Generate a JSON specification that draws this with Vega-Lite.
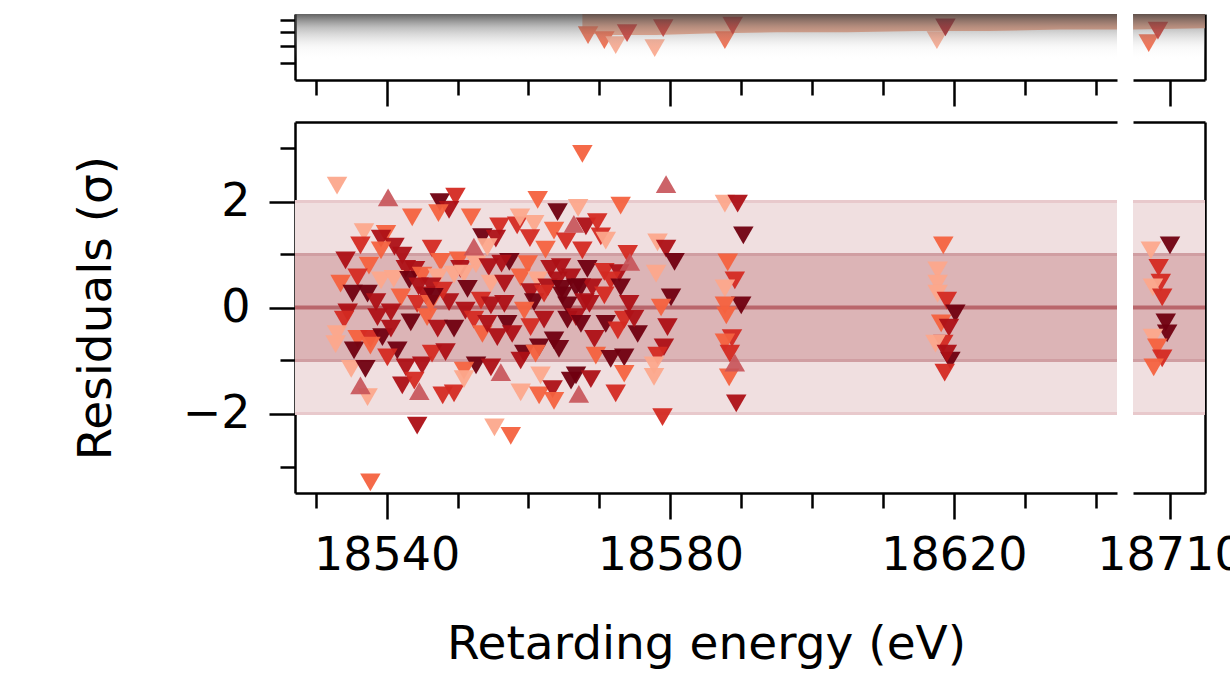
{
  "$schema": "https://vega.github.io/schema/vega-lite/v6.json",
  "padding": {"left": 72, "top": 14, "right": 0, "bottom": 10},
  "autosize": {"type": "pad"},
  "background": "white",
  "config": {
    "view": {"stroke": null},
    "axis": {"grid": false, "domainColor": "#000", "domainWidth": 2.5, "tickColor": "#000", "tickWidth": 2.5,
      "labelFont": "DejaVu Sans", "labelFontSize": 46, "labelColor": "#000",
      "titleFont": "DejaVu Sans", "titleFontSize": 47, "titleColor": "#000", "titleFontWeight": "normal"}
  },
  "datasets": {
    "bands": [{"lo": -2, "hi": 2, "k": "outer"}, {"lo": -1, "hi": 1, "k": "inner"}],
    "zero": [{"r": 0}],
    "upband": [
      {"e": 18567.6, "lo": 7.9, "hi": 30}, {"e": 18572, "lo": 7.8, "hi": 30}, {"e": 18578, "lo": 7.8, "hi": 30},
      {"e": 18585, "lo": 7.9, "hi": 30}, {"e": 18595, "lo": 8.0, "hi": 30}, {"e": 18605, "lo": 8.0, "hi": 30},
      {"e": 18615, "lo": 8.1, "hi": 30}, {"e": 18625, "lo": 8.1, "hi": 30}, {"e": 18635, "lo": 8.2, "hi": 30},
      {"e": 18643, "lo": 8.2, "hi": 30}, {"e": 18704.8, "lo": 8.2, "hi": 30}, {"e": 18715, "lo": 8.3, "hi": 30}
    ],
    "upper": [
      {"e": 18568.4, "v": 7.79, "c": "M"}, {"e": 18570.7, "v": 7.43, "c": "M"}, {"e": 18572.3, "v": 7.09, "c": "L"},
      {"e": 18573.9, "v": 7.94, "c": "R"}, {"e": 18577.8, "v": 6.88, "c": "L"}, {"e": 18579.0, "v": 8.32, "c": "R"},
      {"e": 18587.7, "v": 7.43, "c": "M"}, {"e": 18588.8, "v": 8.52, "c": "R"}, {"e": 18617.6, "v": 7.43, "c": "L"},
      {"e": 18618.8, "v": 8.38, "c": "D"}, {"e": 18707.0, "v": 7.22, "c": "M"}, {"e": 18708.3, "v": 8.12, "c": "R"}
    ],
    "res": [
      {"e":18533.0,"r":2.30,"c":"L"},{"e":18540.2,"r":2.08,"c":"U"},{"e":18567.6,"r":2.90,"c":"M"},{"e":18579.4,"r":2.33,"c":"U"},
      {"e":18547.5,"r":1.99,"c":"K"},{"e":18549.7,"r":2.09,"c":"R"},{"e":18548.8,"r":1.84,"c":"D"},{"e":18543.6,"r":1.70,"c":"M"},
      {"e":18551.9,"r":1.70,"c":"M"},{"e":18561.3,"r":2.03,"c":"M"},{"e":18564.1,"r":1.80,"c":"K"},{"e":18567.0,"r":1.88,"c":"L"},
      {"e":18573.0,"r":1.92,"c":"M"},{"e":18566.4,"r":1.58,"c":"U"},{"e":18568.1,"r":1.53,"c":"D"},{"e":18569.7,"r":1.61,"c":"R"},
      {"e":18558.4,"r":1.55,"c":"R"},{"e":18555.9,"r":1.53,"c":"R"},{"e":18560.8,"r":1.58,"c":"L"},{"e":18536.8,"r":1.42,"c":"L"},
      {"e":18539.9,"r":1.39,"c":"M"},{"e":18539.2,"r":1.30,"c":"D"},{"e":18536.3,"r":1.17,"c":"R"},{"e":18541.1,"r":1.15,"c":"D"},
      {"e":18546.4,"r":1.11,"c":"R"},{"e":18553.5,"r":1.33,"c":"K"},{"e":18555.4,"r":1.30,"c":"D"},{"e":18552.3,"r":1.15,"c":"U"},
      {"e":18560.2,"r":1.31,"c":"R"},{"e":18563.6,"r":1.45,"c":"M"},{"e":18565.3,"r":1.25,"c":"R"},{"e":18570.2,"r":1.34,"c":"R"},
      {"e":18570.9,"r":1.26,"c":"L"},{"e":18578.2,"r":1.23,"c":"L"},{"e":18579.4,"r":1.11,"c":"D"},{"e":18580.6,"r":0.86,"c":"K"},
      {"e":18574.0,"r":1.01,"c":"R"},{"e":18574.3,"r":0.86,"c":"U"},{"e":18567.6,"r":1.08,"c":"R"},{"e":18562.4,"r":1.09,"c":"M"},
      {"e":18534.2,"r":0.89,"c":"D"},{"e":18537.5,"r":0.79,"c":"M"},{"e":18542.2,"r":0.98,"c":"D"},{"e":18542.7,"r":0.73,"c":"D"},
      {"e":18544.0,"r":0.71,"c":"D"},{"e":18547.6,"r":0.86,"c":"M"},{"e":18550.2,"r":0.89,"c":"M"},{"e":18550.4,"r":0.73,"c":"D"},
      {"e":18552.6,"r":0.82,"c":"L"},{"e":18554.4,"r":0.76,"c":"D"},{"e":18557.3,"r":0.86,"c":"K"},{"e":18559.9,"r":0.82,"c":"M"},
      {"e":18563.1,"r":0.73,"c":"D"},{"e":18564.6,"r":0.76,"c":"D"},{"e":18568.3,"r":0.73,"c":"K"},{"e":18570.7,"r":0.67,"c":"R"},
      {"e":18572.8,"r":0.65,"c":"D"},{"e":18578.0,"r":0.64,"c":"L"},{"e":18533.5,"r":0.45,"c":"M"},{"e":18535.9,"r":0.57,"c":"R"},
      {"e":18539.2,"r":0.51,"c":"L"},{"e":18541.0,"r":0.54,"c":"L"},{"e":18543.2,"r":0.52,"c":"K"},{"e":18545.0,"r":0.60,"c":"M"},
      {"e":18547.2,"r":0.57,"c":"L"},{"e":18549.5,"r":0.62,"c":"L"},{"e":18550.9,"r":0.64,"c":"L"},{"e":18554.7,"r":0.45,"c":"L"},
      {"e":18556.6,"r":0.45,"c":"D"},{"e":18558.9,"r":0.57,"c":"M"},{"e":18561.3,"r":0.51,"c":"L"},{"e":18562.7,"r":0.38,"c":"D"},
      {"e":18564.1,"r":0.51,"c":"D"},{"e":18566.0,"r":0.57,"c":"D"},{"e":18567.4,"r":0.38,"c":"K"},{"e":18569.0,"r":0.38,"c":"D"},
      {"e":18571.6,"r":0.51,"c":"R"},{"e":18573.0,"r":0.38,"c":"K"},{"e":18535.2,"r":0.26,"c":"K"},{"e":18537.3,"r":0.26,"c":"K"},
      {"e":18538.5,"r":0.10,"c":"D"},{"e":18542.0,"r":0.19,"c":"M"},{"e":18544.3,"r":0.07,"c":"R"},{"e":18545.5,"r":0.23,"c":"D"},
      {"e":18546.2,"r":0.07,"c":"M"},{"e":18548.8,"r":0.10,"c":"D"},{"e":18551.4,"r":0.35,"c":"K"},{"e":18553.3,"r":0.13,"c":"R"},
      {"e":18554.7,"r":0.04,"c":"D"},{"e":18556.6,"r":0.07,"c":"D"},{"e":18560.3,"r":0.29,"c":"D"},{"e":18560.8,"r":0.10,"c":"K"},
      {"e":18562.2,"r":0.26,"c":"R"},{"e":18564.8,"r":0.23,"c":"K"},{"e":18565.5,"r":0.04,"c":"K"},{"e":18566.7,"r":0.38,"c":"K"},
      {"e":18567.9,"r":0.10,"c":"D"},{"e":18570.7,"r":0.23,"c":"R"},{"e":18574.2,"r":0.07,"c":"D"},{"e":18580.1,"r":0.19,"c":"K"},
      {"e":18578.7,"r":0.00,"c":"M"},{"e":18534.5,"r":-0.09,"c":"D"},{"e":18534.0,"r":-0.23,"c":"R"},{"e":18533.0,"r":-0.50,"c":"L"},
      {"e":18532.8,"r":-0.69,"c":"L"},{"e":18535.9,"r":-0.59,"c":"M"},{"e":18537.7,"r":-0.59,"c":"R"},{"e":18538.7,"r":-0.18,"c":"D"},
      {"e":18539.4,"r":-0.56,"c":"K"},{"e":18540.6,"r":-0.09,"c":"D"},{"e":18540.6,"r":-0.40,"c":"D"},{"e":18541.5,"r":-0.81,"c":"K"},
      {"e":18543.4,"r":-0.28,"c":"K"},{"e":18545.7,"r":-0.18,"c":"M"},{"e":18547.2,"r":-0.40,"c":"D"},{"e":18549.5,"r":-0.40,"c":"K"},
      {"e":18551.1,"r":-0.06,"c":"D"},{"e":18552.3,"r":-0.23,"c":"R"},{"e":18553.5,"r":-0.50,"c":"M"},{"e":18554.2,"r":-0.31,"c":"D"},
      {"e":18557.0,"r":-0.31,"c":"K"},{"e":18555.6,"r":-0.56,"c":"D"},{"e":18557.7,"r":-0.50,"c":"D"},{"e":18559.4,"r":-0.06,"c":"M"},
      {"e":18559.4,"r":-0.87,"c":"K"},{"e":18560.3,"r":-0.37,"c":"R"},{"e":18561.5,"r":-0.75,"c":"K"},{"e":18562.2,"r":-0.23,"c":"D"},
      {"e":18563.6,"r":-0.62,"c":"K"},{"e":18564.3,"r":-0.78,"c":"K"},{"e":18565.5,"r":-0.23,"c":"K"},{"e":18566.7,"r":-0.18,"c":"D"},
      {"e":18567.4,"r":-0.31,"c":"K"},{"e":18568.6,"r":0.07,"c":"D"},{"e":18569.3,"r":-0.59,"c":"D"},{"e":18570.9,"r":-0.31,"c":"K"},
      {"e":18572.6,"r":-0.43,"c":"R"},{"e":18573.5,"r":-0.23,"c":"R"},{"e":18575.4,"r":-0.50,"c":"K"},{"e":18574.9,"r":-0.21,"c":"D"},
      {"e":18579.6,"r":-0.37,"c":"D"},{"e":18579.1,"r":-0.75,"c":"D"},{"e":18535.4,"r":-0.81,"c":"K"},{"e":18537.7,"r":-0.72,"c":"M"},
      {"e":18540.1,"r":-0.94,"c":"R"},{"e":18542.7,"r":-1.13,"c":"D"},{"e":18545.0,"r":-1.09,"c":"D"},{"e":18546.4,"r":-0.87,"c":"R"},
      {"e":18548.3,"r":-0.84,"c":"D"},{"e":18552.6,"r":-1.09,"c":"K"},{"e":18554.7,"r":-1.13,"c":"D"},{"e":18556.1,"r":-1.22,"c":"U"},
      {"e":18550.9,"r":-1.19,"c":"M"},{"e":18558.9,"r":-1.00,"c":"D"},{"e":18561.0,"r":-0.87,"c":"M"},{"e":18569.5,"r":-0.91,"c":"M"},
      {"e":18571.6,"r":-0.97,"c":"K"},{"e":18573.5,"r":-0.94,"c":"K"},{"e":18578.2,"r":-0.91,"c":"R"},{"e":18577.7,"r":-1.09,"c":"L"},
      {"e":18535.0,"r":-1.16,"c":"L"},{"e":18537.0,"r":-1.16,"c":"K"},{"e":18536.3,"r":-1.47,"c":"U"},{"e":18537.3,"r":-1.69,"c":"L"},
      {"e":18542.2,"r":-1.47,"c":"D"},{"e":18543.9,"r":-1.38,"c":"R"},{"e":18544.6,"r":-1.58,"c":"U"},{"e":18547.9,"r":-1.66,"c":"R"},
      {"e":18549.5,"r":-1.62,"c":"R"},{"e":18550.9,"r":-1.35,"c":"L"},{"e":18558.9,"r":-1.60,"c":"L"},{"e":18561.5,"r":-1.66,"c":"M"},
      {"e":18561.7,"r":-1.28,"c":"L"},{"e":18563.4,"r":-1.54,"c":"D"},{"e":18563.6,"r":-1.76,"c":"M"},{"e":18566.0,"r":-1.38,"c":"K"},
      {"e":18566.7,"r":-1.28,"c":"K"},{"e":18567.1,"r":-1.63,"c":"U"},{"e":18568.8,"r":-1.35,"c":"D"},{"e":18572.3,"r":-1.62,"c":"R"},
      {"e":18573.5,"r":-1.25,"c":"M"},{"e":18577.7,"r":-1.31,"c":"L"},{"e":18544.3,"r":-2.23,"c":"D"},{"e":18555.2,"r":-2.26,"c":"L"},
      {"e":18557.5,"r":-2.42,"c":"M"},{"e":18537.7,"r":-3.30,"c":"M"},{"e":18578.9,"r":-2.07,"c":"R"},
      {"e":18547.3,"r":1.78,"c":"M"},{"e":18554.2,"r":1.14,"c":"L"},{"e":18539.2,"r":1.08,"c":"M"},{"e":18544.5,"r":0.40,"c":"D"},
      {"e":18546.3,"r":0.40,"c":"D"},{"e":18547.9,"r":0.32,"c":"R"},{"e":18546.6,"r":0.20,"c":"K"},{"e":18558.8,"r":1.70,"c":"L"},
      {"e":18556.2,"r":0.83,"c":"D"},{"e":18564.7,"r":0.35,"c":"K"},
      {"e":18587.7,"r":1.96,"c":"L"},{"e":18589.5,"r":1.96,"c":"D"},{"e":18590.3,"r":1.36,"c":"K"},{"e":18588.1,"r":0.85,"c":"M"},
      {"e":18589.1,"r":0.51,"c":"R"},{"e":18587.7,"r":0.36,"c":"L"},{"e":18590.0,"r":0.04,"c":"K"},{"e":18587.7,"r":0.04,"c":"M"},
      {"e":18587.9,"r":-0.15,"c":"M"},{"e":18588.7,"r":-0.58,"c":"R"},{"e":18587.7,"r":-0.66,"c":"M"},{"e":18588.4,"r":-0.87,"c":"R"},
      {"e":18589.1,"r":-1.04,"c":"U"},{"e":18588.3,"r":-1.32,"c":"M"},{"e":18589.3,"r":-1.81,"c":"D"},
      {"e":18618.5,"r":1.17,"c":"M"},{"e":18617.7,"r":0.70,"c":"L"},{"e":18617.7,"r":0.45,"c":"L"},{"e":18617.7,"r":0.26,"c":"L"},
      {"e":18619.0,"r":0.13,"c":"R"},{"e":18620.2,"r":-0.11,"c":"K"},{"e":18618.2,"r":-0.30,"c":"M"},{"e":18619.3,"r":-0.38,"c":"D"},
      {"e":18618.5,"r":-0.68,"c":"R"},{"e":18617.4,"r":-0.68,"c":"L"},{"e":18619.5,"r":-1.00,"c":"K"},{"e":18619.0,"r":-0.87,"c":"D"},
      {"e":18618.7,"r":-1.23,"c":"R"},
      {"e":18710.0,"r":1.17,"c":"K"},{"e":18707.3,"r":1.08,"c":"L"},{"e":18708.4,"r":0.75,"c":"R"},{"e":18708.7,"r":0.47,"c":"R"},
      {"e":18707.6,"r":0.38,"c":"L"},{"e":18708.9,"r":0.19,"c":"R"},{"e":18709.4,"r":-0.28,"c":"K"},{"e":18709.6,"r":-0.49,"c":"K"},
      {"e":18707.6,"r":-0.57,"c":"L"},{"e":18708.2,"r":-0.75,"c":"M"},{"e":18708.9,"r":-0.96,"c":"R"},{"e":18707.7,"r":-1.13,"c":"M"}
    ]
  },
  "concat": [
    {
      "width": 822, "height": 66,
      "layer": [
        {
          "data": {"name": "upband"},
          "transform": [{"filter": "datum.e < 18650"}],
          "mark": {"type": "area", "color": "#f4a080", "opacity": 0.9, "clip": true},
          "encoding": {
            "x": {"field": "e", "type": "quantitative", "scale": {"domain": [18527.07, 18643.0], "nice": false, "zero": false},
              "axis": {"orient": "bottom", "values": [18530,18540,18550,18560,18570,18580,18590,18600,18610,18620,18630,18640],
                "tickSize": {"condition": {"test": "datum.value % 40 === 20", "value": 26}, "value": 15}, "labels": false, "title": null}},
            "y": {"field": "lo", "type": "quantitative", "scale": {"type": "log", "domain": [5.1, 9.5], "nice": false},
              "axis": {"orient": "left", "values": [5, 6, 7, 8, 9], "tickSize": 15, "labels": false, "title": null}},
            "y2": {"field": "hi"}
          }
        },
        {
          "data": {"name": "upper"},
          "transform": [{"filter": "datum.e < 18650"}],
          "mark": {"type": "point", "shape": "triangle-down", "filled": true, "size": 420, "opacity": 0.95, "strokeWidth": 0, "clip": true},
          "encoding": {
            "x": {"field": "e", "type": "quantitative"},
            "y": {"field": "v", "type": "quantitative"},
            "color": {"field": "c", "type": "nominal", "legend": null,
              "scale": {"domain": ["L","M","R","D","K","U"], "range": ["#fca88c","#f4623f","#d42a22","#ad1016","#700010","#c65258"]}}
          }
        },
        {
          "data": {"values": [{}]},
          "mark": {"type": "rect", "fill": {"gradient": "linear", "x1": 0, "y1": 0, "x2": 0, "y2": 1,
            "stops": [{"offset": 0, "color": "rgba(60,60,60,0.8)"}, {"offset": 0.2, "color": "rgba(110,110,110,0.45)"},
                      {"offset": 0.5, "color": "rgba(200,200,200,0.12)"}, {"offset": 0.7, "color": "rgba(255,255,255,0)"}]}},
          "encoding": {}
        }
      ]
    },
    {
      "width": 72, "height": 66,
      "layer": [
        {
          "data": {"name": "upband"},
          "transform": [{"filter": "datum.e > 18700"}],
          "mark": {"type": "area", "color": "#f4a080", "opacity": 0.9, "clip": true},
          "encoding": {
            "x": {"field": "e", "type": "quantitative", "scale": {"domain": [18704.78, 18714.94], "nice": false, "zero": false},
              "axis": {"orient": "bottom", "values": [18710], "tickSize": 26, "labels": false, "title": null}},
            "y": {"field": "lo", "type": "quantitative", "scale": {"type": "log", "domain": [5.1, 9.5], "nice": false},
              "axis": {"orient": "right", "ticks": false, "labels": false, "title": null}},
            "y2": {"field": "hi"}
          }
        },
        {
          "data": {"name": "upper"},
          "transform": [{"filter": "datum.e > 18700"}],
          "mark": {"type": "point", "shape": "triangle-down", "filled": true, "size": 420, "opacity": 0.95, "strokeWidth": 0, "clip": true},
          "encoding": {
            "x": {"field": "e", "type": "quantitative"},
            "y": {"field": "v", "type": "quantitative"},
            "color": {"field": "c", "type": "nominal", "legend": null,
              "scale": {"domain": ["L","M","R","D","K","U"], "range": ["#fca88c","#f4623f","#d42a22","#ad1016","#700010","#c65258"]}}
          }
        },
        {
          "data": {"values": [{}]},
          "mark": {"type": "rect", "fill": {"gradient": "linear", "x1": 0, "y1": 0, "x2": 0, "y2": 1,
            "stops": [{"offset": 0, "color": "rgba(60,60,60,0.8)"}, {"offset": 0.2, "color": "rgba(110,110,110,0.45)"},
                      {"offset": 0.5, "color": "rgba(200,200,200,0.12)"}, {"offset": 0.7, "color": "rgba(255,255,255,0)"}]}},
          "encoding": {}
        }
      ]
    },
    {
      "width": 822, "height": 371,
      "resolve": {"axis": {"x": "independent"}},
      "layer": [
        {
          "data": {"name": "bands"},
          "transform": [{"filter": "datum.k === 'outer'"}],
          "mark": {"type": "rect", "color": "#f0dfe0"},
          "encoding": {
            "y": {"field": "lo", "type": "quantitative", "scale": {"domain": [-3.5, 3.5], "nice": false, "zero": false},
              "axis": {"orient": "left", "values": [-3, -2, -1, 0, 1, 2, 3], "title": "Residuals (σ)", "format": "d",
                "tickSize": {"condition": {"test": "datum.value % 2 === 0", "value": 26}, "value": 15},
                "labelExpr": "datum.value % 2 === 0 ? datum.label : ''", "labelPadding": 19, "titlePadding": 62}},
            "y2": {"field": "hi"}
          }
        },
        {
          "data": {"name": "bands"},
          "transform": [{"filter": "datum.k === 'inner'"}],
          "mark": {"type": "rect", "color": "#dcb4b6"},
          "encoding": {"y": {"field": "lo", "type": "quantitative"}, "y2": {"field": "hi"}}
        },
        {
          "data": {"name": "bands"},
          "transform": [{"fold": ["lo", "hi"], "as": ["side", "val"]}],
          "mark": {"type": "rule", "strokeWidth": 3},
          "encoding": {"y": {"field": "val", "type": "quantitative"},
            "stroke": {"field": "k", "type": "nominal", "legend": null, "scale": {"domain": ["outer", "inner"], "range": ["#e8c9cc", "#d09ea2"]}}}
        },
        {
          "data": {"name": "zero"},
          "mark": {"type": "rule", "strokeWidth": 4, "color": "#b9666b"},
          "encoding": {"y": {"field": "r", "type": "quantitative"}}
        },
        {
          "data": {"name": "res"},
          "transform": [{"filter": "datum.e < 18650 && datum.c !== 'U'"}],
          "mark": {"type": "point", "shape": "triangle-down", "filled": true, "size": 420, "opacity": 0.95, "strokeWidth": 0},
          "encoding": {
            "x": {"field": "e", "type": "quantitative", "scale": {"domain": [18527.07, 18643.0], "nice": false, "zero": false},
              "axis": {"orient": "bottom", "values": [18530,18540,18550,18560,18570,18580,18590,18600,18610,18620,18630,18640], "format": "d",
                "tickSize": {"condition": {"test": "datum.value % 40 === 20", "value": 26}, "value": 15},
                "labelExpr": "datum.value % 40 === 20 ? datum.label : ''", "labelPadding": 14,
                "title": "Retarding energy (eV)", "titlePadding": 43}},
            "y": {"field": "r", "type": "quantitative"},
            "color": {"field": "c", "type": "nominal", "legend": null,
              "scale": {"domain": ["L","M","R","D","K","U"], "range": ["#fca88c","#f4623f","#d42a22","#ad1016","#700010","#c65258"]}}
          }
        },
        {
          "data": {"name": "res"},
          "transform": [{"filter": "datum.e < 18650 && datum.c === 'U'"}],
          "mark": {"type": "point", "shape": "triangle-up", "filled": true, "size": 420, "opacity": 0.9, "strokeWidth": 0},
          "encoding": {
            "x": {"field": "e", "type": "quantitative", "axis": {"orient": "top", "ticks": false, "labels": false, "title": null}},
            "y": {"field": "r", "type": "quantitative"},
            "color": {"field": "c", "type": "nominal", "legend": null}
          }
        }
      ]
    },
    {
      "width": 72, "height": 371,
      "resolve": {"axis": {"x": "independent"}},
      "layer": [
        {
          "data": {"name": "bands"},
          "transform": [{"filter": "datum.k === 'outer'"}],
          "mark": {"type": "rect", "color": "#f0dfe0"},
          "encoding": {
            "y": {"field": "lo", "type": "quantitative", "scale": {"domain": [-3.5, 3.5], "nice": false, "zero": false},
              "axis": {"orient": "right", "ticks": false, "labels": false, "title": null}},
            "y2": {"field": "hi"}
          }
        },
        {
          "data": {"name": "bands"},
          "transform": [{"filter": "datum.k === 'inner'"}],
          "mark": {"type": "rect", "color": "#dcb4b6"},
          "encoding": {"y": {"field": "lo", "type": "quantitative"}, "y2": {"field": "hi"}}
        },
        {
          "data": {"name": "bands"},
          "transform": [{"fold": ["lo", "hi"], "as": ["side", "val"]}],
          "mark": {"type": "rule", "strokeWidth": 3},
          "encoding": {"y": {"field": "val", "type": "quantitative"},
            "stroke": {"field": "k", "type": "nominal", "legend": null, "scale": {"domain": ["outer", "inner"], "range": ["#e8c9cc", "#d09ea2"]}}}
        },
        {
          "data": {"name": "zero"},
          "mark": {"type": "rule", "strokeWidth": 4, "color": "#b9666b"},
          "encoding": {"y": {"field": "r", "type": "quantitative"}}
        },
        {
          "data": {"name": "res"},
          "transform": [{"filter": "datum.e > 18700"}],
          "mark": {"type": "point", "shape": "triangle-down", "filled": true, "size": 420, "opacity": 0.95, "strokeWidth": 0},
          "encoding": {
            "x": {"field": "e", "type": "quantitative", "scale": {"domain": [18704.78, 18714.94], "nice": false, "zero": false},
              "axis": {"orient": "bottom", "values": [18710], "format": "d", "tickSize": 26, "labelPadding": 14, "title": null}},
            "y": {"field": "r", "type": "quantitative"},
            "color": {"field": "c", "type": "nominal", "legend": null,
              "scale": {"domain": ["L","M","R","D","K","U"], "range": ["#fca88c","#f4623f","#d42a22","#ad1016","#700010","#c65258"]}}
          }
        },
        {
          "data": {"name": "zero"},
          "mark": {"type": "point", "opacity": 0},
          "encoding": {
            "x": {"datum": 18710, "type": "quantitative", "axis": {"orient": "top", "ticks": false, "labels": false, "title": null}},
            "y": {"field": "r", "type": "quantitative"}
          }
        }
      ]
    }
  ],
  "columns": 2,
  "spacing": {"row": 42, "column": 16},
  "bounds": "flush"
}
